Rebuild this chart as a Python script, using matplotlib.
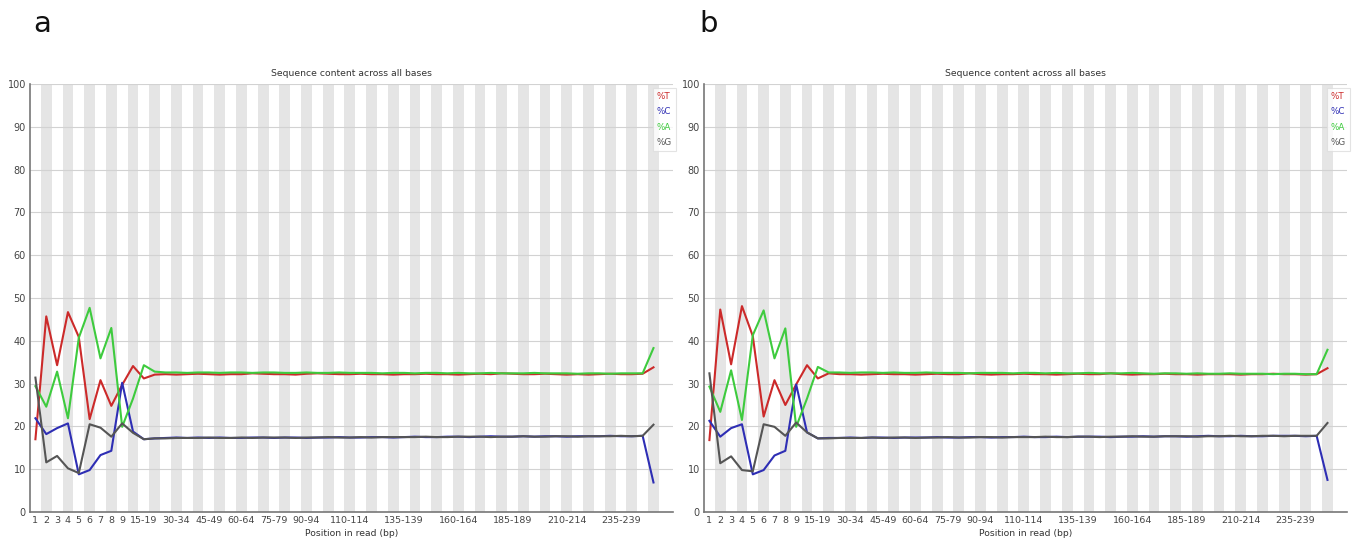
import matplotlib.pyplot as plt

# position groups used by FastQC for 251 bp reads
categorias = [str(i) for i in range(1, 10)] + [f"{s}-{s + 4}" for s in range(10, 250, 5)] + ["250-251"]
etiquetas_x = ["1", "2", "3", "4", "5", "6", "7", "8", "9", "15-19", "30-34", "45-49", "60-64",
               "75-79", "90-94", "110-114", "135-139", "160-164", "185-189", "210-214", "235-239"]

# muestra a
t_a = [17.0, 45.7, 34.3, 46.7, 40.9, 21.7, 30.8, 24.8, 29.7, 34.1, 31.2, 32.1,
       32.2, 32.1, 32.2, 32.3, 32.2, 32.1, 32.2, 32.2, 32.4, 32.3, 32.2,
       32.2, 32.1, 32.3, 32.4, 32.3, 32.2, 32.2, 32.3, 32.2, 32.2, 32.1,
       32.2, 32.2, 32.3, 32.2, 32.2, 32.1, 32.2, 32.3, 32.2, 32.4, 32.3,
       32.2, 32.2, 32.3, 32.2, 32.1, 32.2, 32.1, 32.2, 32.3, 32.2, 32.2,
       32.3, 33.8]
c_a = [21.9, 18.2, 19.6, 20.7, 8.8, 9.8, 13.3, 14.3, 30.2, 18.8, 17.0, 17.2,
       17.3, 17.4, 17.3, 17.4, 17.3, 17.4, 17.3, 17.3, 17.4, 17.4, 17.3,
       17.4, 17.4, 17.3, 17.4, 17.4, 17.5, 17.4, 17.4, 17.5, 17.5, 17.4,
       17.5, 17.6, 17.5, 17.5, 17.6, 17.6, 17.5, 17.6, 17.7, 17.6, 17.6,
       17.7, 17.6, 17.7, 17.7, 17.6, 17.7, 17.7, 17.7, 17.8, 17.7, 17.7,
       17.8, 6.9]
a_a = [29.4, 24.6, 32.8, 21.9, 40.7, 47.7, 35.9, 43.0, 19.9, 26.5, 34.3, 32.8,
       32.6, 32.6, 32.5, 32.6, 32.6, 32.5, 32.6, 32.6, 32.5, 32.6, 32.6,
       32.5, 32.5, 32.6, 32.5, 32.5, 32.6, 32.5, 32.5, 32.5, 32.4, 32.5,
       32.5, 32.4, 32.5, 32.5, 32.4, 32.5, 32.4, 32.4, 32.5, 32.4, 32.4,
       32.4, 32.5, 32.4, 32.4, 32.4, 32.3, 32.4, 32.4, 32.3, 32.4, 32.4,
       32.4, 38.3]
g_a = [31.4, 11.6, 13.1, 10.2, 9.1, 20.5, 19.7, 17.6, 20.7, 18.5, 17.0, 17.2,
       17.2, 17.3, 17.3, 17.3, 17.4, 17.3, 17.3, 17.4, 17.3, 17.4, 17.4,
       17.4, 17.3, 17.4, 17.4, 17.5, 17.4, 17.4, 17.5, 17.4, 17.5, 17.5,
       17.5, 17.5, 17.6, 17.5, 17.5, 17.6, 17.6, 17.6, 17.5, 17.6, 17.6,
       17.7, 17.6, 17.6, 17.7, 17.7, 17.6, 17.7, 17.7, 17.7, 17.8, 17.7,
       17.8, 20.4]

# muestra b
t_b = [16.8, 47.3, 34.5, 48.1, 41.1, 22.3, 30.8, 25.0, 29.8, 34.3, 31.2, 32.4,
       32.2, 32.2, 32.1, 32.2, 32.3, 32.2, 32.2, 32.1, 32.2, 32.3, 32.2,
       32.2, 32.4, 32.2, 32.1, 32.2, 32.2, 32.3, 32.2, 32.2, 32.1, 32.2,
       32.3, 32.2, 32.2, 32.4, 32.2, 32.1, 32.2, 32.2, 32.3, 32.2, 32.2,
       32.1, 32.2, 32.2, 32.2, 32.1, 32.2, 32.2, 32.3, 32.2, 32.2, 32.1,
       32.2, 33.6]
c_b = [21.3, 17.6, 19.6, 20.5, 8.8, 9.8, 13.2, 14.3, 29.8, 18.6, 17.2, 17.3,
       17.3, 17.4, 17.3, 17.4, 17.4, 17.3, 17.4, 17.4, 17.4, 17.5, 17.4,
       17.4, 17.5, 17.5, 17.4, 17.5, 17.5, 17.6, 17.5, 17.5, 17.6, 17.5,
       17.6, 17.6, 17.6, 17.5, 17.6, 17.6, 17.7, 17.6, 17.7, 17.7, 17.6,
       17.7, 17.8, 17.7, 17.7, 17.8, 17.7, 17.7, 17.8, 17.8, 17.8, 17.7,
       17.8, 7.5]
a_b = [29.3, 23.4, 33.1, 21.5, 41.3, 47.1, 35.9, 42.9, 19.9, 26.5, 33.9, 32.6,
       32.6, 32.5, 32.6, 32.6, 32.5, 32.6, 32.5, 32.5, 32.6, 32.5, 32.5,
       32.5, 32.4, 32.5, 32.5, 32.5, 32.4, 32.5, 32.5, 32.4, 32.5, 32.4,
       32.4, 32.5, 32.4, 32.4, 32.4, 32.5, 32.4, 32.3, 32.4, 32.4, 32.3,
       32.4, 32.3, 32.3, 32.4, 32.3, 32.3, 32.3, 32.2, 32.3, 32.3, 32.2,
       32.2, 37.9]
g_b = [32.4, 11.4, 13.0, 9.8, 9.5, 20.5, 19.9, 17.8, 20.9, 18.6, 17.2, 17.2,
       17.3, 17.3, 17.3, 17.4, 17.3, 17.4, 17.4, 17.3, 17.4, 17.4, 17.5,
       17.4, 17.4, 17.5, 17.5, 17.4, 17.5, 17.5, 17.5, 17.6, 17.5, 17.5,
       17.6, 17.6, 17.5, 17.6, 17.6, 17.7, 17.6, 17.6, 17.7, 17.7, 17.7,
       17.6, 17.7, 17.7, 17.8, 17.7, 17.7, 17.8, 17.8, 17.7, 17.8, 17.8,
       17.8, 20.8]

colores = {"%T": "#cc2a2a", "%C": "#2e2eb4", "%A": "#3ecb3e", "%G": "#555555"}


def dibujar_panel(ax, t, c, a, g, letra):
    x = list(range(len(categorias)))
    # bandas grises alternadas
    for i in x:
        if i % 2 == 1:
            ax.axvspan(i - 0.5, i + 0.5, color="#e5e5e5", lw=0, zorder=0)
    for y in range(10, 101, 10):
        ax.axhline(y, color="#d2d2d2", lw=0.8, zorder=1)
    for nombre, serie in zip(["%T", "%C", "%A", "%G"], [t, c, a, g]):
        ax.plot(x, serie, color=colores[nombre], lw=1.5, label=nombre, zorder=3)

    ax.set_xlim(-0.5, 58.8)
    ax.set_ylim(0, 100)
    ax.set_yticks(range(0, 101, 10))
    ax.set_xticks([categorias.index(e) for e in etiquetas_x])
    ax.set_xticklabels(etiquetas_x)
    ax.tick_params(length=0, labelsize=7, colors="#444444", pad=3)
    ax.tick_params(axis="x", labelsize=6.8)
    for lado in ["top", "right"]:
        ax.spines[lado].set_visible(False)
    for lado in ["left", "bottom"]:
        ax.spines[lado].set_color("#777777")
        ax.spines[lado].set_linewidth(1.2)

    ax.set_title("Sequence content across all bases", fontsize=6.7, color="#333333", pad=6)
    ax.set_xlabel("Position in read (bp)", fontsize=6.7, color="#333333", labelpad=3)

    ley = ax.legend(loc="upper right", bbox_to_anchor=(1.004, 0.99), fontsize=6.3,
                    handlelength=0, handletextpad=0, labelcolor="linecolor",
                    frameon=True, fancybox=False, borderpad=0.4, labelspacing=0.75,
                    borderaxespad=0)
    ley.get_frame().set_edgecolor("#dddddd")
    ley.get_frame().set_linewidth(0.8)
    for h in ley.legend_handles:
        h.set_visible(False)

    ax.text(letra[1], letra[2], letra[0], transform=ax.figure.transFigure,
            fontsize=21, va="top", ha="left", color="#111111")


fig = plt.figure(figsize=(13.52, 5.44), dpi=100)
ax1 = fig.add_axes([30 / 1352, 32 / 544, 643 / 1352, 428 / 544])
ax2 = fig.add_axes([704 / 1352, 32 / 544, 643 / 1352, 428 / 544])

dibujar_panel(ax1, t_a, c_a, a_a, g_a, ("a", 33 / 1352, 1 - 10 / 544))
dibujar_panel(ax2, t_b, c_b, a_b, g_b, ("b", 699 / 1352, 1 - 10 / 544))

plt.savefig("out.png", dpi=100)
